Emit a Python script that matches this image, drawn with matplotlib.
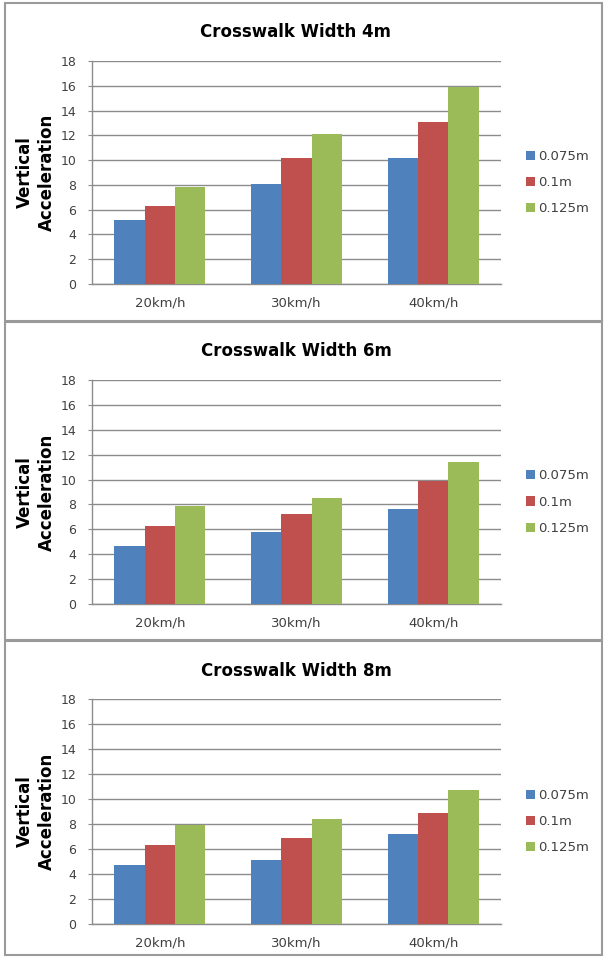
import matplotlib.pyplot as plt
from matplotlib.patches import Rectangle
import numpy as np

# speeds on the x axis and bump heights in the legend
speeds = ['20km/h', '30km/h', '40km/h']
heights = ['0.075m', '0.1m', '0.125m']
widths = ['4m', '6m', '8m']

# vertical acceleration per crosswalk width, one row per bump height
accel_4m = [[5.2, 8.1, 10.2],
            [6.3, 10.2, 13.1],
            [7.8, 12.1, 15.9]]
accel_6m = [[4.7, 5.8, 7.6],
            [6.3, 7.2, 9.9],
            [7.9, 8.5, 11.4]]
accel_8m = [[4.7, 5.1, 7.2],
            [6.3, 6.9, 8.9],
            [7.9, 8.4, 10.7]]

colors = ['#4F81BD', '#C0504D', '#9BBB59']
W, H = 605, 959


def fig_box(left, top, right, bottom):
    # pixel box (top-left origin) -> figure fraction rect
    return [left / W, 1 - bottom / H, (right - left) / W, (bottom - top) / H]


def draw_panel(fig, data, width_label, top, bottom, title_y, border):
    # panel frame
    bl, bt, br, bb = border
    fig.patches.append(Rectangle((bl / W, 1 - bb / H), (br - bl) / W, (bb - bt) / H,
                                 transform=fig.transFigure, fill=False,
                                 edgecolor='#9a9a9a', linewidth=1.5))

    ax = fig.add_axes(fig_box(91.5, top, 501.5, bottom))
    x = np.arange(len(speeds))
    bw = 0.222
    for i, (h, c) in enumerate(zip(heights, colors)):
        ax.bar(x + (i - 1) * bw, data[i], width=bw, color=c, label=h, zorder=3)

    ax.set_xlim(-0.5, 2.5)
    ax.set_ylim(0, 18)
    ax.set_yticks(range(0, 19, 2))
    ax.set_xticks(x)
    ax.set_xticklabels(speeds)
    ax.yaxis.grid(True, color='#8c8c8c', linewidth=1.0, zorder=0)
    for side in ['top', 'right']:
        ax.spines[side].set_visible(False)
    for side in ['left', 'bottom']:
        ax.spines[side].set_color('#8c8c8c')
        ax.spines[side].set_linewidth(1.0)
    ax.tick_params(axis='y', length=3, color='#8c8c8c', labelsize=9,
                   labelcolor='#404040', pad=8)
    ax.tick_params(axis='x', length=0, labelsize=9.5, labelcolor='#404040', pad=9)

    ax.set_ylabel('Vertical\nAcceleration', fontsize=12, fontweight='bold',
                  linespacing=1.3, labelpad=3)
    fig.text(296 / W, 1 - title_y / H, 'Crosswalk Width ' + width_label,
             ha='center', va='center', fontsize=12, fontweight='bold')

    ax.legend(loc='center left', bbox_to_anchor=(1.03, 0.455), frameon=False,
              fontsize=9.5, handlelength=0.7, handleheight=0.7,
              handletextpad=0.25, labelspacing=1.0, labelcolor='#404040')


fig = plt.figure(figsize=(W / 100, H / 100), dpi=100)

draw_panel(fig, accel_4m, widths[0], 61, 284, 32, (5, 3, 602, 321))
draw_panel(fig, accel_6m, widths[1], 380, 604, 351, (5, 322, 602, 640))
draw_panel(fig, accel_8m, widths[2], 699, 924, 671, (5, 641, 602, 955))

fig.savefig('out.png', dpi=100)
